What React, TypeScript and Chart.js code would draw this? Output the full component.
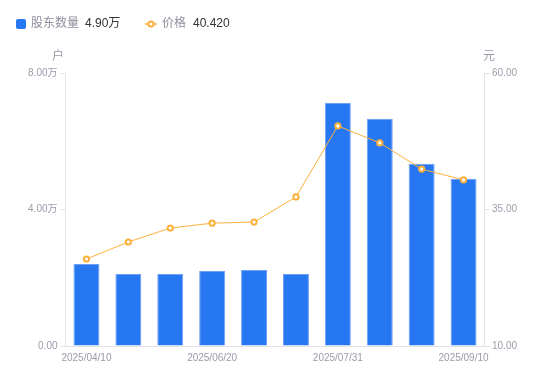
import React, { useEffect, useRef } from "react";
import { Chart, registerables } from "chart.js";

Chart.register(...registerables);

const categories = [
  "2025/04/10", "2025/04/30", "2025/05/30", "2025/06/20", "2025/06/30",
  "2025/07/10", "2025/07/31", "2025/08/20", "2025/08/31", "2025/09/10",
];
const holders = [2.4, 2.11, 2.11, 2.2, 2.23, 2.11, 7.12, 6.66, 5.34, 4.9];
const prices = [25.93, 29.05, 31.6, 32.5, 32.7, 37.3, 50.3, 47.2, 42.4, 40.42];
const leftTicks = [0, 4, 8];
const rightTicks = [10, 35, 60];

const FONT = '"Liberation Sans", "Noto Sans CJK SC", sans-serif';
const GRAY = "#9b9bab";
const AXIS = "#e4e4e8";
const BLUE = "#2777f3";
const ORANGE = "#fbb03b";

const overlay = {
  id: "overlay",
  afterDraw(chart: any) {
    const ctx = chart.ctx;
    ctx.save();
    ctx.textBaseline = "middle";
    ctx.font = `12px ${FONT}`;
    // legend
    const y = 24;
    ctx.fillStyle = BLUE;
    ctx.beginPath();
    (ctx as any).roundRect ? (ctx as any).roundRect(16, 19, 10, 10, 2) : ctx.rect(16, 19, 10, 10);
    ctx.fill();
    ctx.textAlign = "left";
    ctx.fillStyle = "#8e8e9e";
    ctx.fillText("股东数量", 31, y);
    ctx.fillStyle = "#333333";
    ctx.fillText(holders[holders.length - 1].toFixed(2) + "万", 85, y);
    ctx.strokeStyle = ORANGE;
    ctx.lineWidth = 1.5;
    ctx.beginPath();
    ctx.moveTo(145, y);
    ctx.lineTo(157, y);
    ctx.stroke();
    ctx.fillStyle = "#fff";
    ctx.lineWidth = 2;
    ctx.beginPath();
    ctx.arc(151, y, 2.6, 0, Math.PI * 2);
    ctx.fill();
    ctx.stroke();
    ctx.fillStyle = "#8e8e9e";
    ctx.fillText("价格", 162, y);
    ctx.fillStyle = "#333333";
    ctx.fillText(prices[prices.length - 1].toFixed(3), 193, y);
    // axis titles
    ctx.fillStyle = GRAY;
    ctx.textAlign = "center";
    ctx.fillText("户", 58, 57);
    ctx.fillText("元", 489, 57);
    ctx.restore();
  },
};

export default function App() {
  const ref = useRef<HTMLCanvasElement>(null);
  useEffect(() => {
    if (!ref.current) return;
    const chart = new Chart(ref.current, {
      type: "bar",
      data: {
        labels: categories,
        datasets: [
          {
            type: "line",
            label: "价格",
            data: prices,
            yAxisID: "y1",
            borderColor: ORANGE,
            borderWidth: 1,
            pointRadius: 2.6,
            pointBorderWidth: 2,
            pointBackgroundColor: "#fff",
            pointBorderColor: ORANGE,
            tension: 0,
            order: 0,
          } as any,
          {
            type: "bar",
            label: "股东数量",
            data: holders,
            yAxisID: "y",
            backgroundColor: BLUE,
            borderColor: "#6d9ff5",
            borderWidth: { top: 1, left: 1, right: 1, bottom: 0 },
            barPercentage: 0.62,
            categoryPercentage: 1,
            order: 1,
          } as any,
        ],
      },
      options: {
        animation: false,
        responsive: false,
        layout: { padding: { top: 73, left: 0, right: 0, bottom: 0 } },
        plugins: { legend: { display: false }, tooltip: { enabled: false } },
        scales: {
          x: {
            grid: { display: true, drawOnChartArea: false, drawTicks: false, color: AXIS },
            border: { display: true, color: AXIS },
            ticks: {
              autoSkip: false,
              maxRotation: 0,
              padding: 6,
              color: GRAY,
              font: { family: FONT, size: 10 },
              callback: (v: any, i: number) => (i % 3 === 0 ? categories[i] : ""),
            },
            afterFit: (s: any) => { s.height = 35; },
          },
          y: {
            position: "left",
            min: 0,
            max: 8,
            afterBuildTicks: (s: any) => { s.ticks = leftTicks.map((v) => ({ value: v })); },
            grid: { drawOnChartArea: false, drawTicks: true, tickLength: 5, color: AXIS },
            border: { display: true, color: AXIS },
            ticks: {
              padding: 3,
              color: GRAY,
              font: { family: FONT, size: 10 },
              callback: (v: any) => (v === 0 ? "0.00" : Number(v).toFixed(2) + "万"),
            },
            afterFit: (s: any) => { s.width = 65.5; },
          },
          y1: {
            position: "right",
            min: 10,
            max: 60,
            afterBuildTicks: (s: any) => { s.ticks = rightTicks.map((v) => ({ value: v })); },
            grid: { drawOnChartArea: false, drawTicks: true, tickLength: 5, color: AXIS },
            border: { display: true, color: AXIS },
            ticks: {
              padding: 2.5,
              color: GRAY,
              font: { family: FONT, size: 10 },
              callback: (v: any) => Number(v).toFixed(2),
            },
            afterFit: (s: any) => { s.width = 65.5; },
          },
        },
      },
      plugins: [overlay],
    });
    return () => chart.destroy();
  }, []);
  return (
    <div style={{ position: "fixed", left: 0, top: 0, width: 550, height: 381, background: "#fff" }}>
      <canvas ref={ref} width={550} height={381} style={{ display: "block", width: 550, height: 381 }} />
    </div>
  );
}
